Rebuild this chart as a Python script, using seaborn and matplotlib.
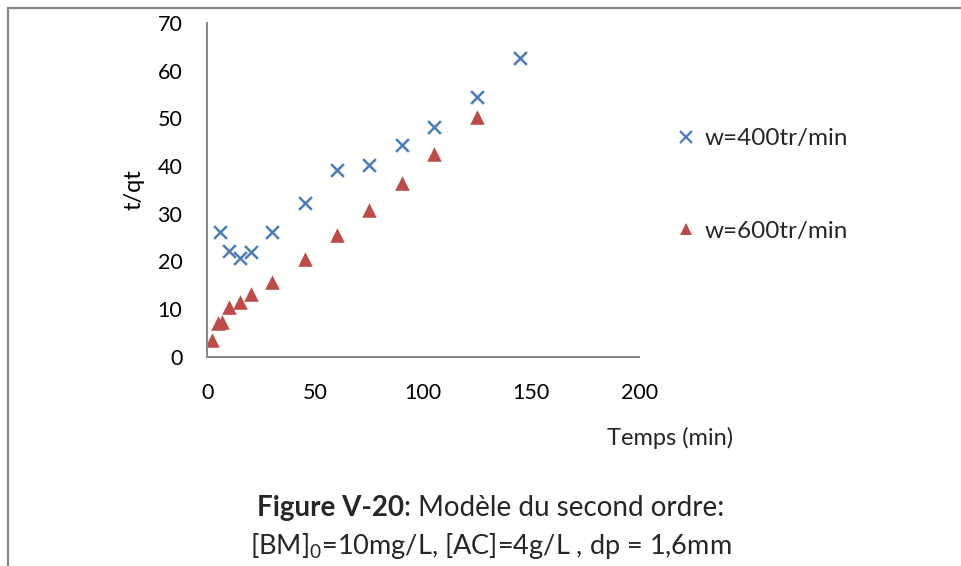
import matplotlib
matplotlib.use("Agg")
import matplotlib.pyplot as plt
from matplotlib.lines import Line2D
import seaborn as sns
import pandas as pd

# Kinetic data: t/qt versus contact time for two stirring speeds
time_400 = [6, 10, 15, 20, 30, 45, 60, 75, 90, 105, 125, 145]
tqt_400 = [26.2, 22.2, 20.6, 22.0, 26.2, 32.3, 39.2, 40.2, 44.3, 48.1, 54.5, 62.6]
time_600 = [2, 5, 6.5, 10, 15, 20, 30, 45, 60, 75, 90, 105, 125]
tqt_600 = [3.4, 7.0, 7.2, 10.4, 11.5, 13.2, 15.7, 20.5, 25.5, 30.8, 36.4, 42.4, 50.2]
series_labels = ["w=400tr/min", "w=600tr/min"]
x_ticks = [0, 50, 100, 150, 200]
y_ticks = [0, 10, 20, 30, 40, 50, 60, 70]

blue = "#4A7EBB"
red = "#BE4B48"
spine_grey = "#868686"

sns.set_theme(style="white")
plt.rcParams["font.family"] = ["Lato", "DejaVu Sans"]
plt.rcParams["mathtext.fontset"] = "custom"
plt.rcParams["mathtext.rm"] = "Lato"
plt.rcParams["mathtext.it"] = "Lato:italic"
plt.rcParams["mathtext.bf"] = "Lato:bold"

df400 = pd.DataFrame({"Temps": time_400, "tqt": tqt_400})
df600 = pd.DataFrame({"Temps": time_600, "tqt": tqt_600})

fig = plt.figure(figsize=(9.61, 5.66), dpi=100)
ax = fig.add_axes([0.2159, 0.3701, 0.4491, 0.5893])

sns.scatterplot(data=df400, x="Temps", y="tqt", marker="x", color=blue,
                s=85, linewidth=1.8, ax=ax, legend=False)
sns.scatterplot(data=df600, x="Temps", y="tqt", marker="^", color=red,
                s=110, linewidth=0, ax=ax, legend=False)

ax.set_xlim(0, 200)
ax.set_ylim(0, 70)
ax.set_xticks(x_ticks)
ax.set_yticks(y_ticks)
ax.set_xticklabels([str(v) for v in x_ticks])
ax.set_yticklabels([str(v) for v in y_ticks])
ax.tick_params(axis="both", length=0, labelsize=15.5, colors="black")
ax.tick_params(axis="x", pad=19)
ax.tick_params(axis="y", pad=18)
for side in ["top", "right"]:
    ax.spines[side].set_visible(False)
for side in ["left", "bottom"]:
    ax.spines[side].set_color(spine_grey)
    ax.spines[side].set_linewidth(1.4)
ax.set_xlabel("")
ax.set_ylabel("t/qt", fontsize=17, color="black")
ax.yaxis.set_label_coords(-0.145, 0.5)

fig.text(670 / 961, 1 - 438 / 566, "Temps (min)", fontsize=17, ha="center", va="center")

# Legend on the right of the plot
handles = [
    Line2D([], [], linestyle="none", marker="x", color=blue, markersize=8, markeredgewidth=1.6),
    Line2D([], [], linestyle="none", marker="^", color=red, markersize=9, markeredgewidth=0),
]
leg = fig.legend(
    handles, series_labels, loc="center left",
    bbox_to_anchor=(679 / 961, 1 - 185 / 566),
    frameon=False, fontsize=17.5, handlelength=0.6, handletextpad=0.45,
    labelspacing=2.95, borderaxespad=0, borderpad=0,
)

# Page frame lines (left and top edges)
fig.add_artist(Line2D([7.5 / 961, 7.5 / 961], [0, 1 - 7.5 / 566], color=spine_grey, lw=1.6,
                      transform=fig.transFigure))
fig.add_artist(Line2D([7.5 / 961, 1], [1 - 7.5 / 566, 1 - 7.5 / 566], color=spine_grey, lw=1.6,
                      transform=fig.transFigure))

# Caption
renderer = fig.canvas.get_renderer()
cap_size = 20
y1 = 1 - 508 / 566
t_bold = fig.text(0, y1, "Figure V-20", fontsize=cap_size, fontweight="bold", ha="left", va="center")
t_rest = fig.text(0, y1, ": Modèle du second ordre:", fontsize=cap_size, ha="left", va="center")
w_bold = t_bold.get_window_extent(renderer).width
w_rest = t_rest.get_window_extent(renderer).width
x_start = 491 - (w_bold + w_rest) / 2
t_bold.set_x(x_start / 961)
t_rest.set_x((x_start + w_bold) / 961)

fig.text(491 / 961, 1 - 546 / 566, r"[BM]$_0$=10mg/L, [AC]=4g/L , dp = 1,6mm",
         fontsize=19.5, ha="center", va="center")

fig.savefig("out.png", dpi=100, facecolor="white")
